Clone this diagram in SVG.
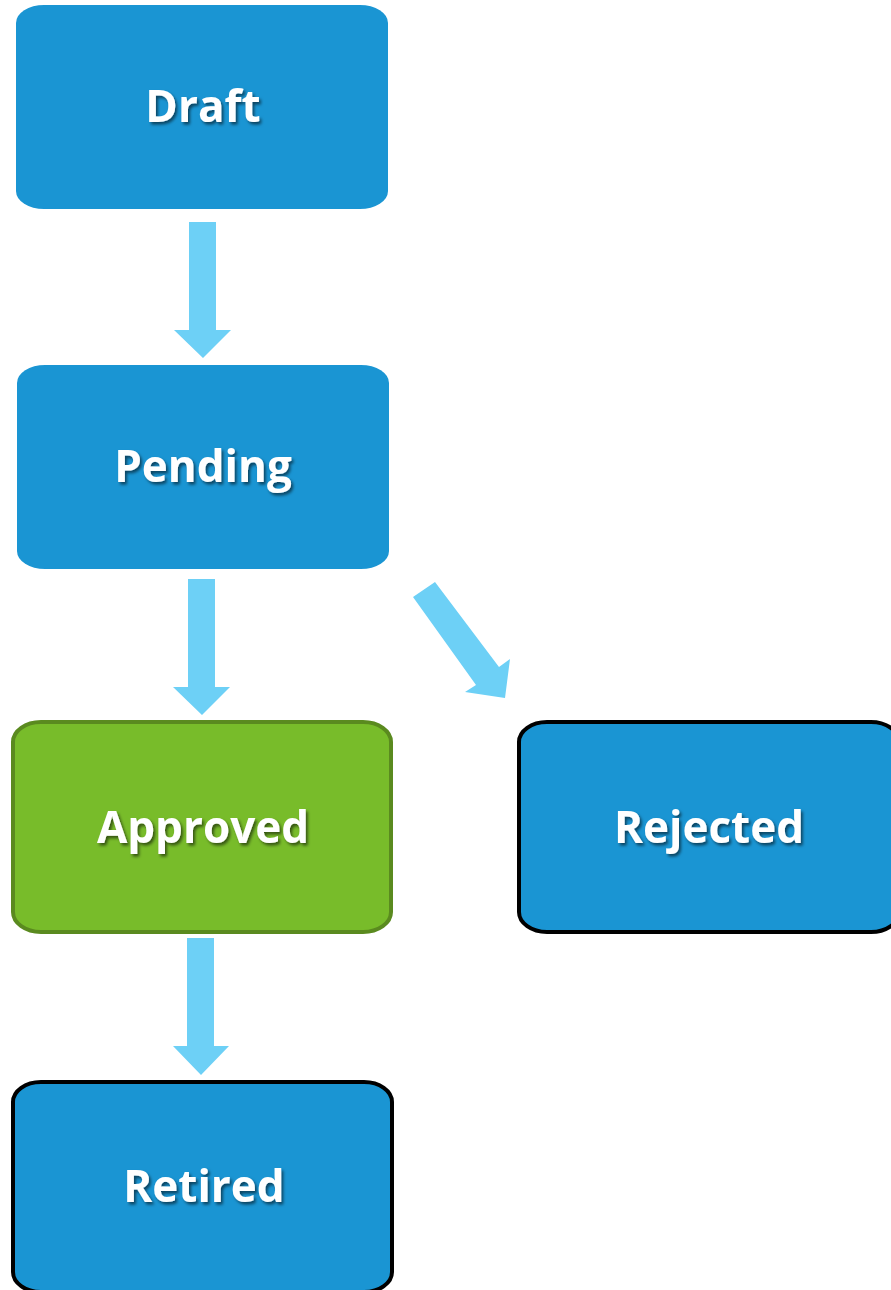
<svg xmlns="http://www.w3.org/2000/svg" width="891" height="1290" viewBox="0 0 891 1290">
<style>
.box{fill:#1A95D3}
.bk{stroke:#000;stroke-width:4}
.gr{fill:#78BC2A;stroke:#5A8A1F;stroke-width:4}
.lbl{font-family:"Open Sans","Liberation Sans",sans-serif;font-weight:700;font-size:44px;fill:#fff;text-anchor:middle;filter:url(#sh)}
.arr{fill:#6DD0F6}
</style>
<defs>
<filter id="sh" x="-10%" y="-20%" width="130%" height="150%">
<feDropShadow dx="2" dy="2.5" stdDeviation="1.5" flood-color="#000" flood-opacity="0.55"/>
</filter>
</defs>
<g id="connectors">
<polygon class="arr" points="189,222 216,222 216,330 231,330 203,358 174,330 189,330"/>
<polygon class="arr" points="188,579 215,579 215,687 230,687 202,715 173,687 188,687"/>
<polygon class="arr" points="187,938 214,938 214,1046 229,1046 201,1075 173,1046 187,1046"/>
<polygon class="arr" points="413,597 435,582 499,667 510,659 505,698 465,692 476,685"/>
</g>
<g id="draft"><rect class="box" x="16" y="5" width="372" height="204" rx="28" ry="18"/><text class="lbl" x="203" y="122">Draft</text></g>
<g id="pending"><rect class="box" x="17" y="365" width="372" height="204" rx="28" ry="18"/><text class="lbl" x="203" y="482">Pending</text></g>
<g id="approved"><rect class="gr" x="13" y="722" width="378" height="210" rx="28" ry="20"/><text class="lbl" x="203" y="843">Approved</text></g>
<g id="rejected"><rect class="box bk" x="519" y="722" width="380" height="210" rx="28" ry="20"/><text class="lbl" x="709" y="843">Rejected</text></g>
<g id="retired"><rect class="box bk" x="13" y="1082" width="379" height="210" rx="28" ry="20"/><text class="lbl" x="204" y="1202">Retired</text></g>
</svg>
